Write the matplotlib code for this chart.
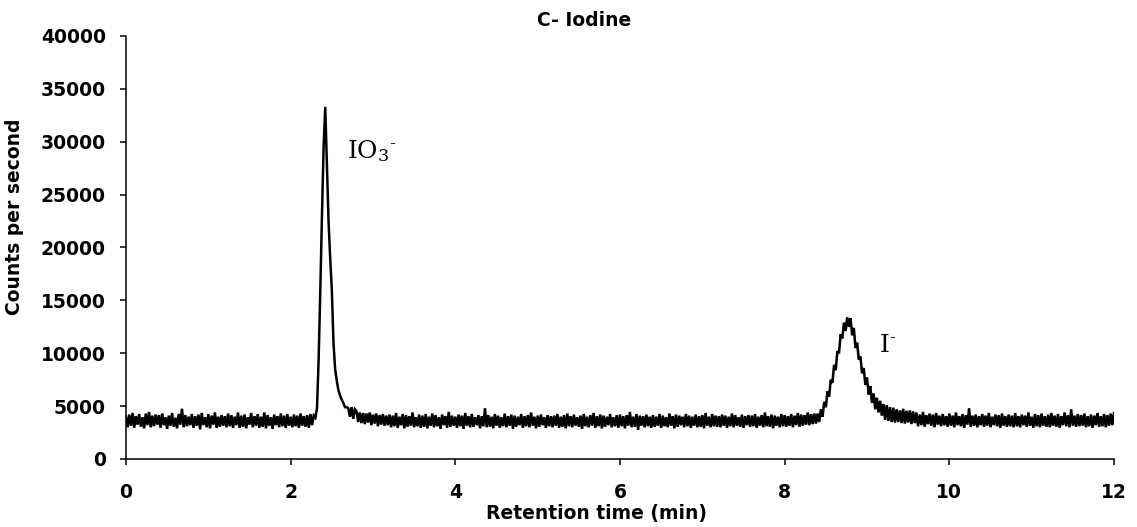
import matplotlib
matplotlib.use("Agg")
import matplotlib.pyplot as plt
import numpy as np

# ICP-MS chromatogram, iodine species; one reading every 0.02 min from 0 to 12 min
time_step = 0.02
counts = [
    4000, 3000, 4200, 3150, 4350, 2950, 4050, 3250, 4250, 3050, 3950, 2900, 4300, 3200, 4450, 3000, 4100, 3100, 4200, 3250,
    4150, 2950, 4300, 3200, 3950, 2850, 4100, 3150, 4350, 3050, 3900, 2900, 4250, 3250, 4750, 3000, 4150, 3100, 4000, 3200,
    4250, 2950, 4050, 3150, 4200, 2800, 4350, 3200, 3950, 3000, 4250, 2900, 4100, 3250, 4400, 2950, 4000, 3050, 4150, 3150,
    4050, 3000, 4300, 3100, 4150, 2950, 4000, 3200, 4400, 2950, 4100, 3050, 4200, 2900, 3950, 3250, 4350, 3000, 4050, 3150,
    4250, 2950, 4000, 3050, 4400, 2900, 4150, 3150, 3950, 2850, 4200, 3200, 4050, 3000, 4300, 3100, 4100, 2950, 4250, 3150,
    4000, 3000, 4200, 3100, 4100, 2950, 4300, 3150, 4050, 3050, 4150, 2950, 4250, 3200, 4100, 3900, 4800, 9500, 16000, 23000,
    29500, 33300, 28000, 22500, 19000, 16000, 11000, 8500, 7400, 6500, 6000, 5600, 5300, 4900, 4900, 4800, 4000, 4900, 3800, 4700,
    4500, 3500, 4400, 3400, 4350, 3300, 4300, 3450, 4400, 3200, 4200, 3350, 4300, 3100, 4150, 3250, 4250, 3150, 4100, 3200,
    4200, 3000, 4100, 3100, 4350, 2950, 4000, 3200, 4250, 2900, 4150, 3050, 4050, 3150, 4400, 3000, 3950, 3100, 4200, 2950,
    4100, 3050, 4250, 2900, 4000, 3150, 4300, 3000, 4150, 3100, 3950, 2850, 4200, 3200, 4050, 2950, 4450, 3050, 4100, 3150,
    4000, 2950, 4200, 3100, 4100, 2850, 4350, 3150, 4050, 3000, 4250, 3050, 3950, 3200, 4150, 2900, 4050, 3100, 4800, 3000,
    4150, 3050, 4000, 2900, 4250, 3150, 4100, 2950, 3950, 3100, 4300, 3000, 4050, 3150, 4200, 2850, 4100, 3050, 4000, 3200,
    4250, 2950, 4050, 3100, 4150, 3000, 4400, 3150, 4000, 2900, 4100, 3050, 4200, 3200, 3950, 2950, 4150, 3100, 4050, 3000,
    4100, 3150, 4250, 2950, 4000, 3050, 4150, 2900, 4300, 3100, 4050, 3000, 4200, 3150, 3950, 3050, 4100, 2850, 4250, 3100,
    4000, 3000, 4150, 3150, 4350, 2950, 4050, 3100, 4200, 2900, 4100, 3050, 4000, 3200, 4250, 3000, 3950, 3100, 4150, 2950,
    4200, 3100, 4050, 2900, 4150, 3150, 4450, 3000, 4000, 3050, 4250, 2750, 4100, 3150, 4050, 3000, 4200, 3100, 4000, 2950,
    4150, 3050, 4000, 3150, 4250, 2950, 4100, 3100, 3950, 3000, 4300, 3150, 4050, 2900, 4200, 3050, 4100, 3200, 4000, 3000,
    4250, 3100, 4100, 2950, 4000, 3150, 4200, 3000, 4050, 3050, 4150, 2900, 4350, 3150, 4000, 3000, 4250, 3100, 4100, 3050,
    4050, 3000, 4200, 3150, 4100, 2950, 4000, 3100, 4300, 3000, 4150, 3150, 3950, 3050, 4200, 2950, 4050, 3200, 4150, 3050,
    4100, 3100, 4250, 2950, 4000, 3150, 4150, 3000, 4400, 3100, 4050, 3050, 4200, 2900, 4100, 3150, 4000, 3000, 4250, 3100,
    4150, 3050, 4050, 3150, 4250, 3000, 4100, 3200, 4350, 3050, 4200, 3150, 4150, 3250, 4400, 3200, 4250, 3300, 4300, 3350,
    4300, 3500, 4700, 4000, 5400, 4900, 6400, 5900, 7500, 7200, 8900, 8400, 10200, 10000, 11800, 11400, 12900, 12100, 13400, 12500,
    13300, 11700, 12400, 10500, 11000, 9400, 9700, 8100, 8600, 7000, 7700, 6100, 6900, 5300, 6200, 4700, 5800, 4400, 5500, 4100,
    5200, 3700, 5100, 3600, 4900, 3500, 4850, 3450, 4700, 3500, 4600, 3400, 4750, 3350, 4550, 3450, 4600, 3300, 4500, 3400,
    4400, 3100, 4200, 3200, 4450, 3050, 4150, 3300, 4300, 3150, 4200, 3000, 4350, 3250, 4100, 3100, 4250, 3200, 4050, 3050,
    4300, 3150, 4100, 3000, 4400, 3200, 4050, 3100, 4250, 2950, 4150, 3250, 4800, 3050, 4100, 3150, 4200, 3000, 4050, 3200,
    4250, 3050, 4100, 3150, 4350, 3000, 4000, 3200, 4200, 3100, 4150, 2950, 4300, 3150, 4050, 3050, 4200, 3100, 4100, 3000,
    4350, 3100, 4050, 3000, 4200, 3200, 4100, 3050, 4400, 3150, 4000, 2950, 4250, 3100, 4150, 3000, 4300, 3150, 4050, 3050,
    4200, 3000, 4350, 3150, 4100, 3050, 4250, 2950, 4050, 3200, 4400, 3100, 4150, 3000, 4700, 3150, 4100, 3050, 4250, 3100,
    4150, 3150, 4300, 3000, 4050, 3100, 4200, 2950, 4100, 3200, 4350, 3050, 4050, 3100, 4250, 3000, 4150, 3150, 4300, 3200,
    4350,
]

peak_labels = [r"$\mathrm{IO}_{3}{}^{\text{-}}$", r"$\mathrm{I}{}^{\text{-}}$"]
peak_label_pos = [(2.68, 28500), (9.15, 10100)]

x_ticks = [0, 2, 4, 6, 8, 10, 12]
y_ticks = [0, 5000, 10000, 15000, 20000, 25000, 30000, 35000, 40000]


def main() -> None:
    plt.rcParams["font.family"] = "DejaVu Sans"
    plt.rcParams["mathtext.fontset"] = "dejavuserif"

    retention_time = np.arange(len(counts)) * time_step

    fig = plt.figure(figsize=(11.37, 5.27), dpi=100)
    ax = fig.add_axes([126 / 1137, 1 - 459 / 527, 988 / 1137, 423 / 527])

    ax.plot(retention_time, counts, color="black", linewidth=1.8,
            solid_joinstyle="miter")

    for label, (x, y) in zip(peak_labels, peak_label_pos):
        ax.text(x, y, label, fontsize=18, fontweight="normal",
                va="baseline", ha="left")

    ax.set_xlim(0, 12)
    ax.set_ylim(0, 40000)
    ax.set_xticks(x_ticks)
    ax.set_yticks(y_ticks)

    for side in ["top", "right"]:
        ax.spines[side].set_visible(False)
    for side in ["left", "bottom"]:
        ax.spines[side].set_linewidth(1.1)

    ax.tick_params(axis="both", direction="out", length=4.5, width=1.1, labelsize=13.5)
    ax.tick_params(axis="x", pad=13)
    ax.tick_params(axis="y", pad=10)
    for lbl in ax.get_xticklabels() + ax.get_yticklabels():
        lbl.set_fontweight("bold")

    fig.text(584 / 1137, 1 - 20 / 527, "C- Iodine", ha="center", va="center",
             fontsize=13.5, fontweight="bold")
    fig.text(597 / 1137, 1 - 514 / 527, "Retention time (min)", ha="center",
             va="center", fontsize=13.5, fontweight="bold")
    fig.text(15 / 1137, 1 - 217 / 527, "Counts per second", ha="center",
             va="center", rotation=90, fontsize=13.5, fontweight="bold")

    fig.savefig("out.png", dpi=100)
    plt.close(fig)


if __name__ == "__main__":
    main()
